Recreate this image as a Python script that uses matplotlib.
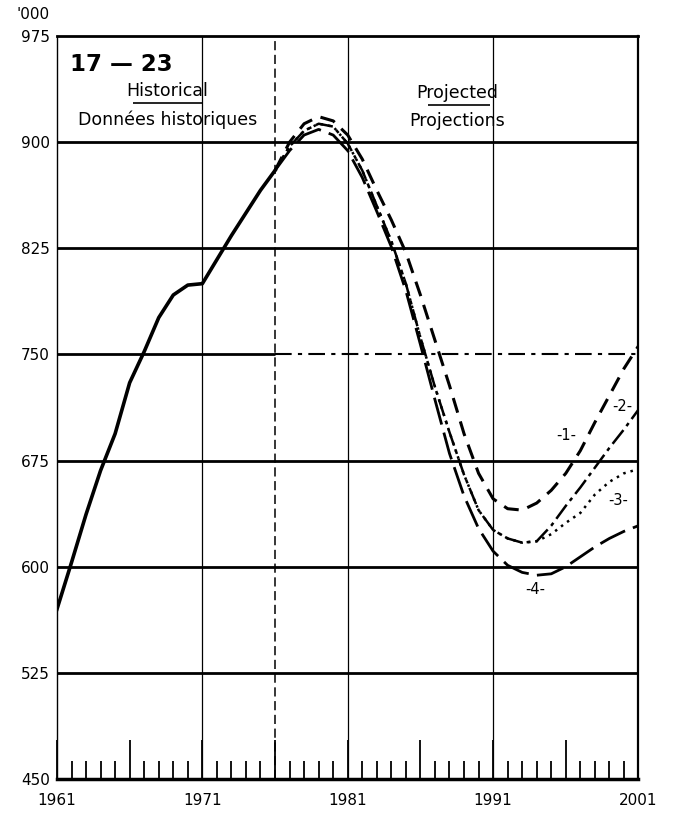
import numpy as np
import matplotlib.pyplot as plt

plt.rcParams['font.family'] = ['DejaVu Sans']

# historical series, thousands
hist_years = list(range(1961, 1977))
hist_vals = [570, 603, 637, 668, 694, 730, 752, 776, 792, 799, 800,
             817, 834, 850, 866, 880]

# projections 1976-2001, four scenarios
proj_years = list(range(1976, 2002))
proj_1 = [880, 900, 913, 918, 915, 905, 888, 866, 845, 822, 792, 760, 728,
          694, 666, 648, 641, 640, 645, 654, 666, 682, 702, 721, 740, 756]
proj_2 = [880, 897, 908, 913, 911, 899, 880, 855, 830, 800, 762, 727, 695,
          665, 640, 626, 620, 617, 618, 629, 643, 656, 670, 684, 697, 711]
proj_3 = [880, 897, 908, 913, 911, 899, 880, 855, 830, 800, 762, 727, 695,
          665, 640, 626, 620, 617, 618, 623, 631, 638, 651, 660, 666, 669]
proj_4 = [880, 894, 905, 909, 905, 894, 875, 851, 826, 795, 757, 718, 680,
          650, 627, 611, 601, 596, 594, 595, 600, 607, 614, 620, 625, 629]

curve_labels = ['-1-', '-2-', '-3-', '-4-']
label_pos = [(1996.0, 693), (1999.9, 713), (1999.6, 647), (1993.9, 584)]

y_ticks = [450, 525, 600, 675, 750, 825, 900, 975]
x_ticks = [1961, 1971, 1981, 1991, 2001]

fig = plt.figure(figsize=(6.75, 8.16), dpi=100)
ax = fig.add_axes([0.0844, 0.0453, 0.8615, 0.9106])

ax.set_xlim(1961, 2001)
ax.set_ylim(450, 975)

# horizontal rules
for v in [525, 600, 675, 825, 900]:
    ax.axhline(v, color='black', lw=2.0, zorder=1)
ax.hlines(750, 1961, 1976, color='black', lw=2.0, zorder=1)
ax.hlines(750, 1976, 2001, color='black', lw=1.5, linestyles=(0, (8, 3, 2, 3)), zorder=1)

# vertical rules
for yr in [1971, 1981, 1991]:
    ax.axvline(yr, color='black', lw=0.9, zorder=1)
ax.axvline(1976, color='black', lw=1.1, linestyle=(0, (6, 3)), zorder=1)

ax.plot(hist_years, hist_vals, color='black', lw=2.6, zorder=3)
ax.plot(proj_years, proj_1, color='black', lw=2.2, linestyle=(0, (5, 3)), zorder=3)
ax.plot(proj_years, proj_2, color='black', lw=1.8, linestyle=(0, (7, 2, 1.5, 2)), zorder=3)
ax.plot(proj_years, proj_3, color='black', lw=1.8, linestyle=(0, (1, 2)), zorder=3)
ax.plot(proj_years, proj_4, color='black', lw=2.0, linestyle=(0, (10, 3)), zorder=3)

for lab, (x, y) in zip(curve_labels, label_pos):
    ax.text(x, y, lab, ha='center', va='center', fontsize=10.5,
            bbox=dict(facecolor='white', edgecolor='none', pad=0.5), zorder=4)

# header texts
ax.text(1961.9, 955, '17 — 23', fontsize=16.5, fontweight='bold', ha='left', va='center')
ax.text(1968.6, 936, 'Historical', fontsize=12.5, ha='center', va='center')
ax.plot([1966.2, 1971.0], [928.0, 928.0], color='black', lw=1.2, solid_capstyle='butt')
ax.text(1968.6, 916, 'Données historiques', fontsize=12.5, ha='center', va='center')
ax.text(1988.5, 935, 'Projected', fontsize=12.5, ha='center', va='center')
ax.plot([1986.5, 1990.8], [926.0, 926.0], color='black', lw=1.2, solid_capstyle='butt')
ax.text(1988.5, 915, 'Projections', fontsize=12.5, ha='center', va='center')
ax.text(-0.012, 990, "'000", transform=ax.get_yaxis_transform(), fontsize=11,
        ha='right', va='center')

ax.set_yticks(y_ticks)
ax.set_yticklabels([str(v) for v in y_ticks], fontsize=11)
ax.tick_params(axis='y', length=0, pad=5)

ax.set_xticks(list(range(1961, 2002, 5)))
ax.set_xticklabels([str(y) if y in x_ticks else '' for y in range(1961, 2002, 5)],
                   fontsize=11)
ax.set_xticks(list(range(1961, 2002)), minor=True)
ax.tick_params(axis='x', which='major', direction='in', length=28, width=1.3, pad=10)
ax.tick_params(axis='x', which='minor', direction='in', length=13, width=1.3)

ax.spines['left'].set_linewidth(1.0)
ax.spines['right'].set_linewidth(1.6)
ax.spines['top'].set_linewidth(2.0)
ax.spines['bottom'].set_linewidth(2.5)

plt.savefig('out.png', dpi=100)
